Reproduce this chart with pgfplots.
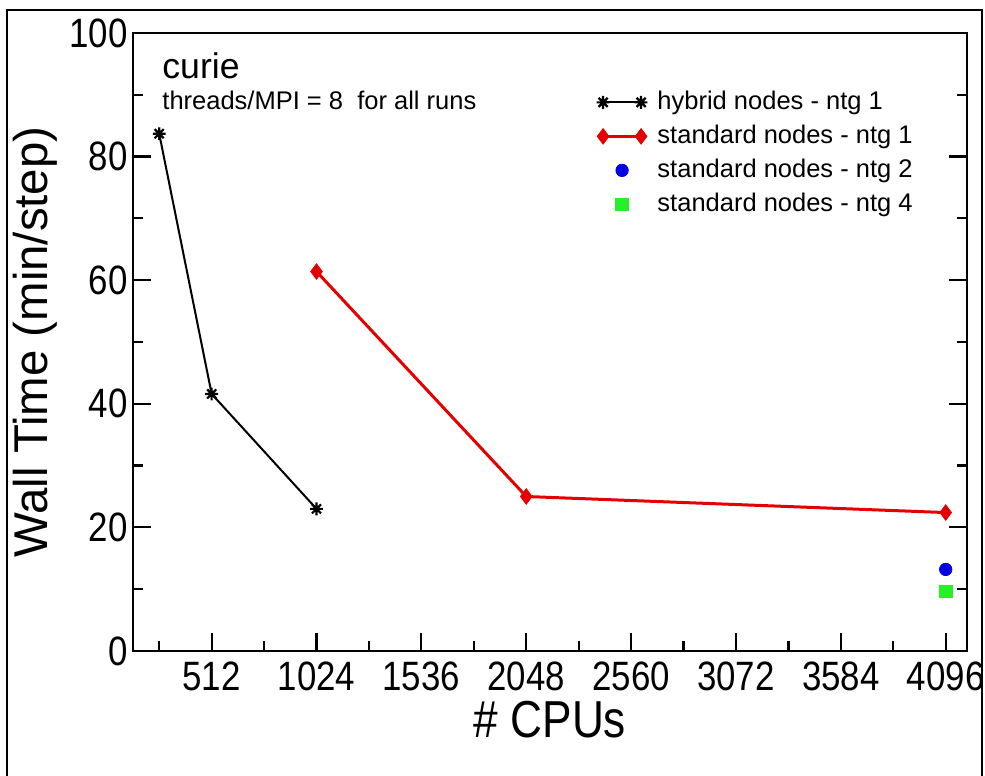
\documentclass[border=0pt]{standalone}
\usepackage{fontspec}
\setmainfont{Liberation Sans}
\newfontfamily\tickfont{Liberation Sans}[FakeStretch=0.85]
\usepackage{pgfplots}
\pgfplotsset{compat=1.18}
\definecolor{xred}{RGB}{228,0,0}
\definecolor{xblue}{RGB}{0,0,225}
\definecolor{xgreen}{RGB}{40,240,40}
\pgfdeclareplotmark{star8}{%
  \pgfpathmoveto{\pgfpoint{-\pgfplotmarksize}{0pt}}\pgfpathlineto{\pgfpoint{\pgfplotmarksize}{0pt}}%
  \pgfpathmoveto{\pgfpoint{0pt}{-\pgfplotmarksize}}\pgfpathlineto{\pgfpoint{0pt}{\pgfplotmarksize}}%
  \pgfpathmoveto{\pgfpoint{-0.707\pgfplotmarksize}{-0.707\pgfplotmarksize}}\pgfpathlineto{\pgfpoint{0.707\pgfplotmarksize}{0.707\pgfplotmarksize}}%
  \pgfpathmoveto{\pgfpoint{-0.707\pgfplotmarksize}{0.707\pgfplotmarksize}}\pgfpathlineto{\pgfpoint{0.707\pgfplotmarksize}{-0.707\pgfplotmarksize}}%
  \pgfusepathqstroke}
\pgfplotsset{
  linelegend/.style={legend image code/.code={\draw[##1] plot coordinates {(0pt,0pt) (19pt,0pt)};}},
  marklegend/.style={legend image code/.code={\path (0pt,0pt) (19pt,0pt); \draw[##1] plot coordinates {(9.5pt,0pt)};}}
}
\begin{document}
\begin{tikzpicture}
\useasboundingbox (-66.5pt,-62.5pt) rectangle (426pt,325.5pt);
\begin{axis}[
  scale only axis, width=417pt, height=309pt,
  xmin=128, xmax=4200, ymin=0, ymax=100,
  xtick={512,1024,1536,2048,2560,3072,3584,4096},
  minor xtick={256,768,1280,1792,2304,2816,3328,3840},
  ytick={0,20,40,60,80,100},
  minor ytick={10,30,50,70,90},
  xtick pos=bottom, ytick pos=both,
  tick align=inside,
  major tick length=9pt, minor tick length=5pt,
  every tick/.style={black, line width=1.1pt},
  axis line style={line width=1.2pt},
  /pgf/number format/assume math mode=true,
  xticklabel style={font=\tickfont\fontsize{20.5}{20.5}\selectfont, inner sep=0pt, anchor=north, yshift=-5pt},
  yticklabel style={font=\tickfont\fontsize{20.5}{20.5}\selectfont, inner sep=0pt, anchor=east, xshift=-2.5pt},
  scaled ticks=false,
  xticklabel={\pgfmathprintnumber[fixed,1000 sep={}]{\tick}},
  xlabel={\# CPUs},
  xlabel style={font=\tickfont\fontsize{26}{26}\selectfont, at={(axis description cs:0.5,-0.111)}, anchor=center},
  ylabel={Wall Time (min/step)},
  ylabel style={font=\fontsize{23.7}{23.7}\selectfont, at={(axis description cs:-0.1175,0.5)}, anchor=center},
  legend style={at={(axis description cs:0.5555,0.9159)}, anchor=north west, draw=none, fill=none,
    font=\fontsize{12.75}{12.75}\selectfont, inner sep=0pt, row sep=0pt,
    nodes={inner sep=0pt, text height=9.5pt, text depth=2.7pt, minimum height=17pt}},
  legend cell align=left,
  clip=false,
]
\addplot[black, line width=1pt, mark=star8, mark size=3.2pt, mark options={line width=1.1pt}, linelegend]
  coordinates {(256,83.7) (512,41.6) (1024,23.0)};
\addlegendentry{\hspace*{5pt}hybrid nodes - ntg 1}
\addplot[xred, line width=1.5pt, mark=diamond*, mark size=3.8pt, mark options={line width=0.5pt}, linelegend]
  coordinates {(1024,61.4) (2048,25.0) (4096,22.4)};
\addlegendentry{\hspace*{5pt}standard nodes - ntg 1}
\addplot[xblue, only marks, mark=*, mark size=3.1pt, marklegend]
  coordinates {(4096,13.2)};
\addlegendentry{\hspace*{5pt}standard nodes - ntg 2}
\addplot[xgreen, only marks, mark=square*, mark size=3.1pt, marklegend]
  coordinates {(4096,9.6)};
\addlegendentry{\hspace*{5pt}standard nodes - ntg 4}
\node[anchor=base west, inner sep=0pt, font=\fontsize{17.8}{17.8}\selectfont] at (axis description cs:0.0348,0.927) {curie};
\node[anchor=base west, inner sep=0pt, font=\fontsize{12.75}{12.75}\selectfont] at (axis description cs:0.0348,0.8754) {threads/MPI = 8~~for all runs};
\end{axis}
\draw[line width=1pt] (-63pt,-80pt) -- (-63pt,320.5pt) -- (424.5pt,320.5pt) -- (424.5pt,-80pt);
\end{tikzpicture}
\end{document}
